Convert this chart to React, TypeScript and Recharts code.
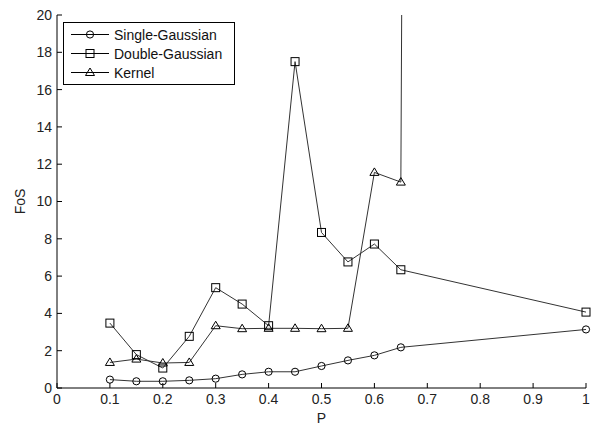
import { LineChart, Line, XAxis, YAxis } from 'recharts'

// x positions (P) of the sampled points
const pSingle = [0.1, 0.15, 0.2, 0.25, 0.3, 0.35, 0.4, 0.45, 0.5, 0.55, 0.6, 0.65, 1]
const pDouble = [0.1, 0.15, 0.2, 0.25, 0.3, 0.35, 0.4, 0.45, 0.5, 0.55, 0.6, 0.65, 1]
const pKernel = [0.1, 0.15, 0.2, 0.25, 0.3, 0.35, 0.4, 0.45, 0.5, 0.55, 0.6, 0.65, 0.7]

// FoS values per method
const fosSingle = [0.45, 0.36, 0.36, 0.41, 0.5, 0.73, 0.87, 0.87, 1.18, 1.48, 1.75, 2.18, 3.14]
const fosDouble = [3.48, 1.79, 1.07, 2.77, 5.38, 4.5, 3.34, 17.5, 8.34, 6.76, 7.72, 6.34, 4.07]
const fosKernel = [1.37, 1.55, 1.34, 1.37, 3.34, 3.18, 3.2, 3.2, 3.18, 3.2, 11.56, 11.04, 300]

const xTicks = [0, 0.1, 0.2, 0.3, 0.4, 0.5, 0.6, 0.7, 0.8, 0.9, 1]
const yTicks = [0, 2, 4, 6, 8, 10, 12, 14, 16, 18, 20]

const seriesNames = ['Single-Gaussian', 'Double-Gaussian', 'Kernel']
const markers = ['circle', 'square', 'triangle'] as const

const font = 'Arial, "Liberation Sans", sans-serif'
const lineColor = '#333'

const toRows = (xs: number[], ys: number[]) => xs.map((p, i) => ({ p, fos: ys[i] }))

const series = [
  { name: seriesNames[0], marker: markers[0], data: toRows(pSingle, fosSingle) },
  { name: seriesNames[1], marker: markers[1], data: toRows(pDouble, fosDouble) },
  { name: seriesNames[2], marker: markers[2], data: toRows(pKernel, fosKernel) },
]

function Marker({ kind, cx, cy }: { kind: string; cx: number; cy: number }) {
  const common = { fill: 'none', stroke: '#000', strokeWidth: 1 }
  if (kind === 'circle') return <circle cx={cx} cy={cy} r={3.6} {...common} />
  if (kind === 'square') return <rect x={cx - 4} y={cy - 4} width={8} height={8} {...common} />
  return <polygon points={`${cx},${cy - 4.5} ${cx + 4.5},${cy + 3} ${cx - 4.5},${cy + 3}`} {...common} />
}

// legend box drawn over the top-left of the plot area
function LegendBox() {
  return (
    <div
      style={{
        position: 'absolute',
        left: 63,
        top: 22,
        border: '1px solid #000',
        background: '#fff',
        width: 172,
        height: 63,
        boxSizing: 'border-box',
        paddingTop: 2,
        fontFamily: font,
        fontSize: 14,
        color: '#111',
      }}
    >
      {series.map((s) => (
        <div key={s.name} style={{ display: 'flex', alignItems: 'center', height: 19 }}>
          <svg width={50} height={19} style={{ display: 'block' }}>
            <line x1={7} x2={45} y1={9.5} y2={9.5} stroke="#000" />
            <Marker kind={s.marker} cx={26} cy={9.5} />
          </svg>
          <span>{s.name}</span>
        </div>
      ))}
    </div>
  )
}

export default function App() {
  const tickStyle = { fill: '#222', fontSize: 14, fontFamily: font }
  return (
    <div style={{ position: 'relative', width: 591, height: 425, background: '#fff' }}>
      <style>{'body{margin:0}'}</style>
      <LineChart width={591} height={425} margin={{ top: 15, right: 5, left: 0, bottom: 0 }}>
        <XAxis
          type="number"
          dataKey="p"
          domain={[0, 1]}
          ticks={xTicks}
          tickFormatter={(v: number) => String(v)}
          height={37}
          stroke="#000"
          tickSize={-5}
          tickMargin={11}
          tick={tickStyle}
          label={{ value: 'P', position: 'insideBottom', offset: 2, fill: '#222', fontSize: 14, fontFamily: font }}
        />
        <YAxis
          type="number"
          domain={[0, 20]}
          ticks={yTicks}
          allowDataOverflow
          width={57}
          stroke="#000"
          tickSize={-5}
          tickMargin={10}
          tick={tickStyle}
          label={{ value: 'FoS', angle: -90, position: 'center', dx: -8, fill: '#222', fontSize: 14, fontFamily: font }}
        />
        {series.map((s) => (
          <Line
            key={s.name}
            name={s.name}
            data={s.data}
            dataKey="fos"
            type="linear"
            stroke={lineColor}
            strokeWidth={1}
            isAnimationActive={false}
            dot={(props: any) => (
              <Marker key={`${s.name}-${props.index}`} kind={s.marker} cx={props.cx} cy={props.cy} />
            )}
            activeDot={false}
          />
        ))}
      </LineChart>
      <LegendBox />
    </div>
  )
}
